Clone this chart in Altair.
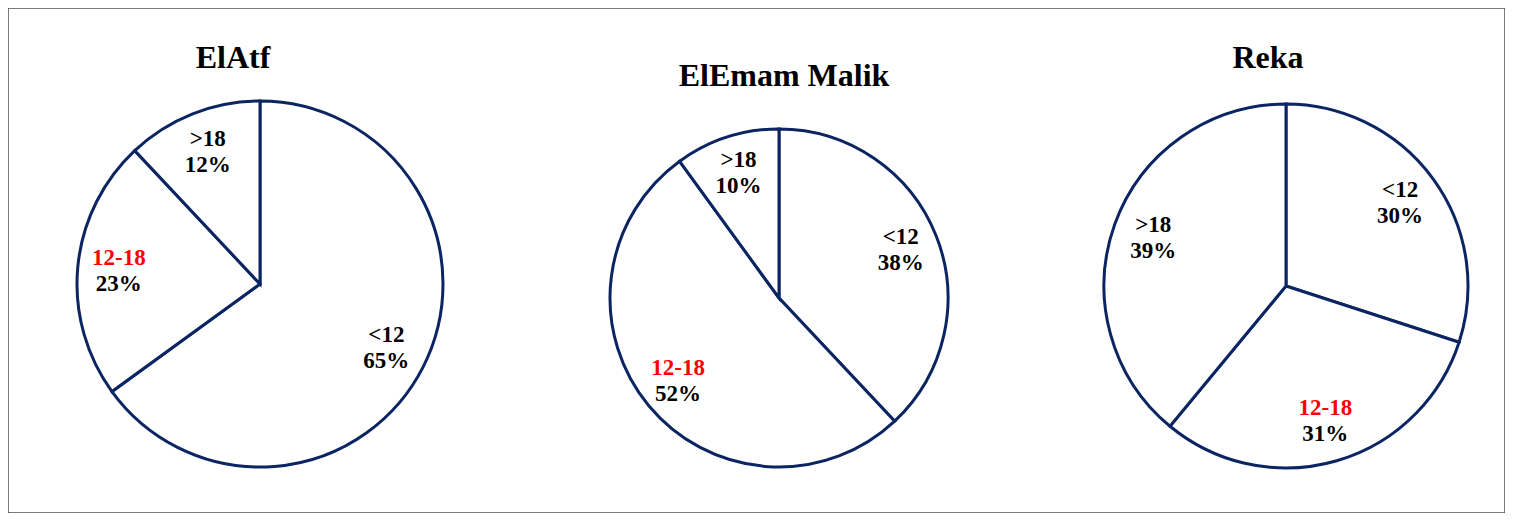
import altair as alt
import pandas as pd

sites = ["ElAtf", "ElEmam Malik", "Reka"]
categories = ["<12", "12-18", ">18"]
elatf_pct = [65, 23, 12]
elemam_pct = [38, 52, 10]
reka_pct = [30, 31, 39]
site_values = [elatf_pct, elemam_pct, reka_pct]

rows = []
for s, vals in zip(sites, site_values):
    for i, (c, v) in enumerate(zip(categories, vals)):
        rows.append({"site": s, "category": c, "idx": i, "value": v, "pct": f"{v}%"})
df = pd.DataFrame(rows)
titles_df = pd.DataFrame({"site": sites})

NAVY = "#0B2562"
FONT = "Liberation Serif"
W, H = 1497, 505

# layout per pie (center x, center y, radius, title x, title y) in chart coords
layout = {
    "ElAtf": (252, 276, 183, 225, 50),
    "ElEmam Malik": (771, 290, 169, 776, 68),
    "Reka": (1278, 278, 182, 1260, 50),
}

color = alt.Color("category:N", scale=alt.Scale(domain=categories, range=["#000000", "#FF0000", "#000000"]), legend=None)

layers = []
for s in sites:
    cx, cy, r, tx, ty = layout[s]
    base = alt.Chart(df).transform_filter(alt.datum.site == s)
    theta = alt.Theta("value:Q", stack=True, scale=alt.Scale(zero=True))
    order = alt.Order("idx:Q", sort="ascending")
    arc = base.mark_arc(outerRadius=r, fill="white", stroke=NAVY, strokeWidth=3).encode(
        theta=theta, order=order, x=alt.value(cx), y=alt.value(cy)
    )
    lab = base.mark_text(radius=r * 0.775, dy=-13, font=FONT, fontWeight="bold", fontSize=23).encode(
        theta=theta, order=order, x=alt.value(cx), y=alt.value(cy), text="category:N", color=color
    )
    pct = base.mark_text(radius=r * 0.775, dy=13, font=FONT, fontWeight="bold", fontSize=23, color="black").encode(
        theta=theta, order=order, x=alt.value(cx), y=alt.value(cy), text="pct:N"
    )
    title = alt.Chart(titles_df).transform_filter(alt.datum.site == s).mark_text(
        font=FONT, fontWeight="bold", fontSize=32, color="black"
    ).encode(text="site:N", x=alt.value(tx), y=alt.value(ty))
    layers += [arc, lab, pct, title]

chart = alt.layer(*layers).resolve_scale(theta="independent").properties(
    width=W, height=H, autosize=alt.AutoSizeParams(type="none"), padding=0
).configure_view(stroke="#505050", strokeWidth=1.5)

chart.save("out.html", embed_options={"renderer": "svg", "actions": False})
